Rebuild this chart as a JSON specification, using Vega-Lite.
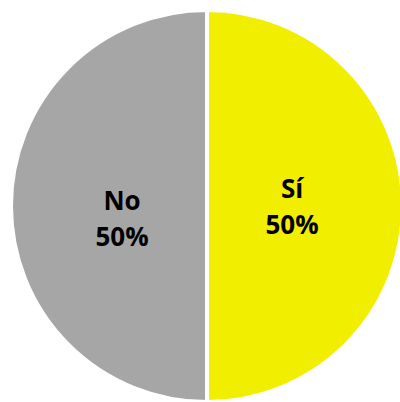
{
  "$schema": "https://vega.github.io/schema/vega-lite/v6.json",
  "autosize": "none",
  "width": 392,
  "height": 392,
  "padding": {"left": 11, "top": 10, "right": 0, "bottom": 0},
  "background": "white",
  "config": {"view": {"stroke": null}},
  "data": {"values": [
    {"respuesta": "Sí", "valor": 50, "etiqueta": "Sí\n50%"},
    {"respuesta": "No", "valor": 50, "etiqueta": "No\n50%"}
  ]},
  "encoding": {
    "theta": {"field": "valor", "type": "quantitative", "stack": true},
    "order": {"field": "respuesta", "type": "nominal", "sort": "descending"}
  },
  "layer": [
    {
      "mark": {"type": "arc", "stroke": "white", "strokeWidth": 4},
      "encoding": {
        "color": {"field": "respuesta", "type": "nominal", "legend": null,
          "scale": {"domain": ["Sí", "No"], "range": ["#F2EE00", "#A6A6A6"]}}
      }
    },
    {
      "mark": {"type": "text", "radius": 85, "font": "Open Sans", "fontWeight": 700, "fontSize": 26, "lineBreak": "\n", "lineHeight": 36, "color": "black", "dy": -16},
      "encoding": {"text": {"condition": {"test": "datum.respuesta == 'Sí'", "field": "etiqueta"}, "value": ""}}
    },
    {
      "mark": {"type": "text", "radius": 85, "font": "Open Sans", "fontWeight": 700, "fontSize": 26, "lineBreak": "\n", "lineHeight": 36, "color": "black", "dy": -4},
      "encoding": {"text": {"condition": {"test": "datum.respuesta == 'No'", "field": "etiqueta"}, "value": ""}}
    }
  ]
}
